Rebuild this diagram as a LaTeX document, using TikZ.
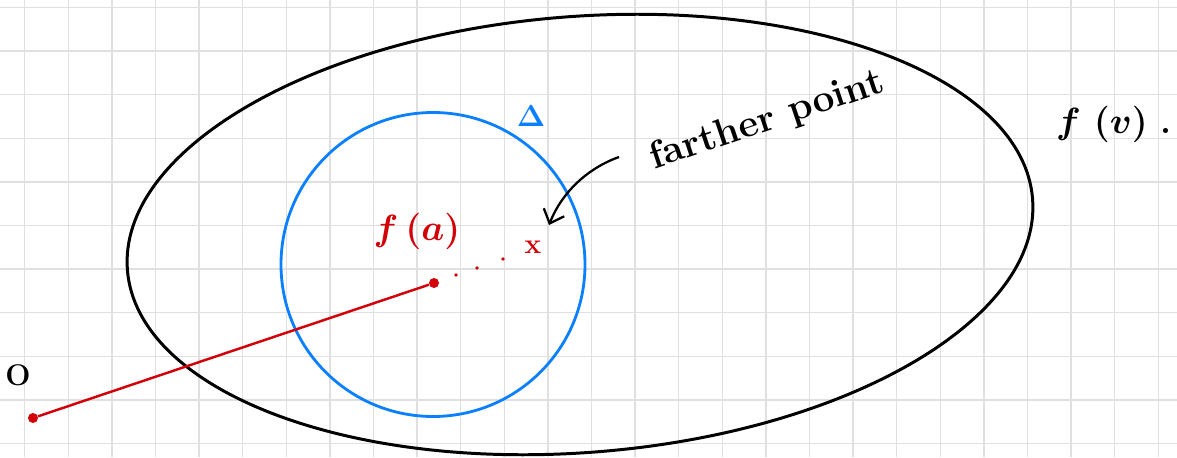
\documentclass[tikz,border=0pt]{standalone}
\usepackage{fontspec}
\usepackage{tikz}
\usetikzlibrary{arrows.meta}
\definecolor{sketchBlue}{RGB}{10,128,255}
\definecolor{sketchRed}{RGB}{210,0,8}
\definecolor{gridGray}{RGB}{224,224,224}

\begin{document}
\begin{tikzpicture}[x=0.02cm,y=-0.02cm,>={Straight Barb[length=2.4mm,width=4.4mm]},
  hand/.style={font=\fontsize{20}{24}\selectfont\bfseries\boldmath},
  reddot/.style={circle,fill=sketchRed,inner sep=0pt,minimum size=0.2cm}]
  \useasboundingbox (0,0) rectangle (1177,457);
  \fill[white] (0,0) rectangle (1177,457);
  % grid paper
  \foreach \i in {0,...,26} {
    \draw[gridGray,line width=0.8pt] ({24.7+43.6*\i},0) -- ({24.7+43.6*\i},457);
  }
  \foreach \j in {0,...,10} {
    \draw[gridGray,line width=0.8pt] (0,{7.5+43.6*\j}) -- (1177,{7.5+43.6*\j});
  }
  % f(v) and the ball
  \draw[line width=1.7pt,rotate around={4.5:(580,234.5)}] (580,234.5) ellipse (454 and 218);
  \draw[sketchBlue,line width=1.6pt] (433,264.5) circle (152);
  \node[sketchBlue,font=\fontsize{19}{22}\selectfont\boldmath] (dlbl) at (531,116) {$\Delta$};
  \node[hand,inner sep=1pt] (fvlbl) at (1114,124) {$f\ (v)$\ .};
  % origin to f(a)
  \node[reddot] (orig) at (33,418) {};
  \node[reddot] (fa) at (434,283) {};
  \draw[sketchRed,line width=1.4pt] (orig) -- (fa);
  \node[font=\fontsize{17}{19}\selectfont\bfseries] (olbl) at (18,375) {O};
  \node[hand,sketchRed] (falbl) at (417,231) {$f\,(a)$};
  \foreach \p in {(456,275),(477,268),(503,259)} {
    \fill[sketchRed] \p circle (1.8);
  }
  \node[sketchRed,font=\fontsize{16}{18}\selectfont\bfseries] (farpt) at (533,247) {x};
  % label and arrow
  \node[hand,font=\fontsize{22}{26}\selectfont\bfseries\addfontfeatures{LetterSpace=10},rotate=18.5] (farlbl) at (767,121) {farther point};
  \coordinate (arrstart) at (619,157);
  \coordinate (arrend) at (549,225);
  \draw[->,line width=1.3pt] (arrstart) .. controls (588,168) and (562,192) .. (arrend);
\end{tikzpicture}
\end{document}
